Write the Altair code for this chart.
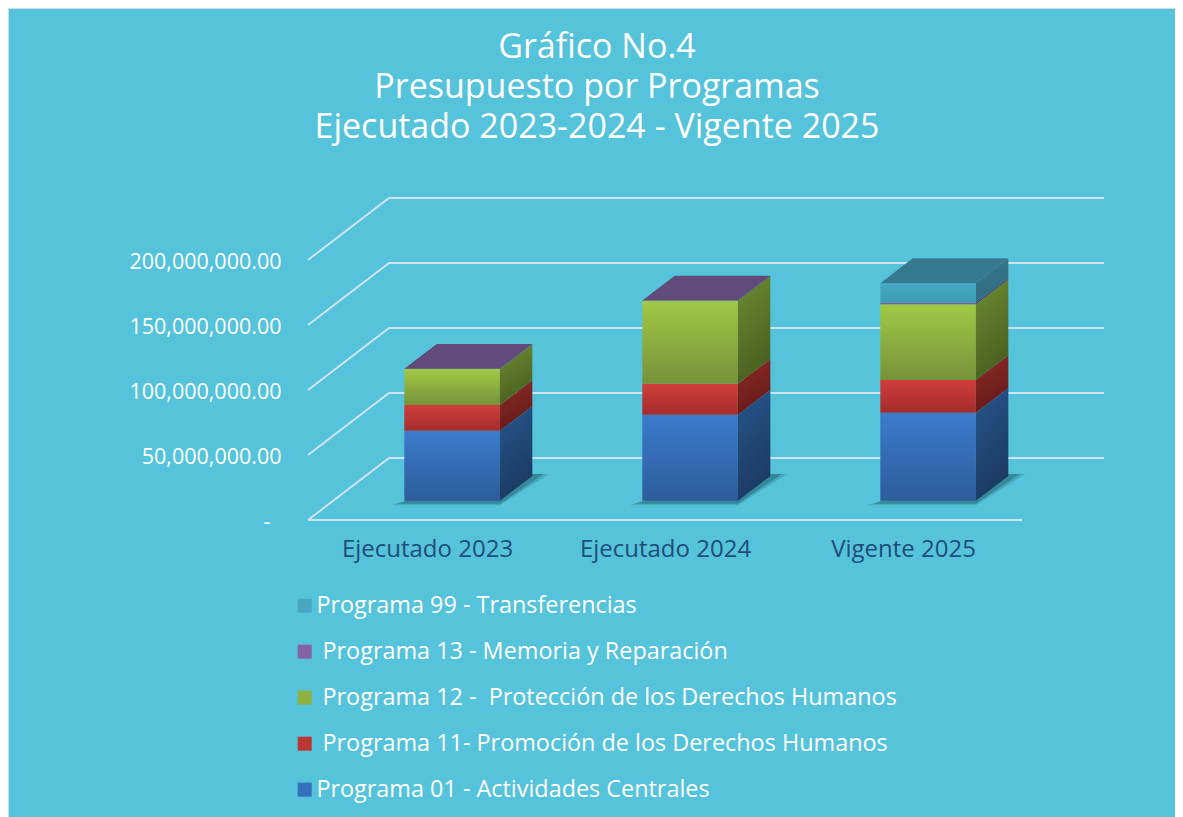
import altair as alt
import pandas as pd

# ---- data ----
categories = ["Ejecutado 2023", "Ejecutado 2024", "Vigente 2025"]
series_names = [
    "Programa 01 - Actividades Centrales",
    "\u200c\u00a0Programa 11- Promoción de los Derechos Humanos",
    "\u200c\u00a0Programa 12 - \u00a0Protección de los Derechos Humanos",
    "\u200c\u00a0Programa 13 - Memoria y Reparación",
    "Programa 99 - Transferencias",
]
prog01 = [53.8e6, 66.2e6, 67.7e6]
prog11 = [19.8e6, 23.8e6, 25.2e6]
prog12 = [27.7e6, 63.8e6, 58.2e6]
prog13 = [0.2e6, 0.2e6, 1.2e6]
prog99 = [0.0, 0.0, 15.1e6]
series_values = [prog01, prog11, prog12, prog13, prog99]
y_ticks = [0, 50e6, 100e6, 150e6, 200e6]
title_lines = ["Gráfico No.4", "Presupuesto por Programas", "Ejecutado 2023-2024 - Vigente 2025"]

# ---- colours ----
legend_colors = ["#3570BC", "#BC3633", "#8FB23F", "#8562A6", "#48A6C2"]
front_colors = [("#3C7BCC", "#2C5C9B"), ("#D03D3A", "#A22C2B"), ("#A0CA46", "#76923A"),
                ("#8562A6", "#6D4F8C"), ("#46AAC6", "#3E9AB4")]
side_colors = [("#26568B", "#1B3A62"), ("#8E2B27", "#651A19"), ("#6C8C33", "#4A6020"),
               ("#5A4070", "#503863"), ("#38788D", "#2F6C80")]
top_colors = {3: "#614B7A", 4: "#377A90"}
BG = "#55C3D9"
GRID = "#CFE4F0"
FONT = "Open Sans"

# ---- 3D projection settings (plot area 796 x 322 px) ----
PW, PH = 796, 322
CAT_PX = 238.0
VAL_PER_PX = 50e6 / 65.0
X_DOM = [-0.5, -0.5 + PW / CAT_PX]
Y_DOM = [0, PH * VAL_PER_PX]
DX = 81 / CAT_PX          # full floor depth in category units
DY = 62 * VAL_PER_PX      # full floor depth in value units
D0, D1 = 0.31, 0.71       # bar depth inside the floor
HW = 47.8 / CAT_PX

X_AXIS = alt.Axis(values=[0, 1, 2], grid=False, domain=False, ticks=False, labelPadding=17,
                  labelExpr="['Ejecutado 2023','Ejecutado 2024','Vigente 2025'][datum.value]",
                  labelColor="#1F4E79", labelFont=FONT, labelFontSize=24, labelOverlap=False,
                  labelFlush=False)
Y_AXIS = alt.Axis(values=y_ticks, grid=False, domain=False, ticks=False, labelPadding=27,
                  labelExpr="datum.value === 0 ? '-\u00a0\u00a0\u200c' : format(datum.value, ',.2f')",
                  labelColor="white", labelFont=FONT, labelFontSize=21.5, labelOverlap=False,
                  labelFlush=False, labelOffset=2.5)


def sx():
    return alt.X("x:Q", scale=alt.Scale(domain=X_DOM, nice=False, zero=False), axis=X_AXIS, title=None)


def sy():
    return alt.Y("y:Q", scale=alt.Scale(domain=Y_DOM, nice=False, zero=False), axis=Y_AXIS, title=None)


x2 = alt.X2("x2:Q")
y2 = alt.Y2("y2:Q")


def grad(a, b, x2_=0, y2_=1):
    return alt.LinearGradient(gradient="linear", x1=0, y1=0, x2=x2_, y2=y2_,
                              stops=[alt.GradientStop(offset=0, color=a), alt.GradientStop(offset=1, color=b)])


layers = []

# back gridlines with their depth lines, plus the front floor line
grid_rows = []
for t in y_ticks:
    grid_rows += [
        {"x": X_DOM[0], "y": t, "k": t, "o": 0},
        {"x": X_DOM[0] + DX, "y": t + DY, "k": t, "o": 1},
        {"x": X_DOM[1], "y": t + DY, "k": t, "o": 2},
    ]
grid_rows += [{"x": -0.5, "y": 0, "k": -1, "o": 0}, {"x": 2.5 + DX * 0, "y": 0, "k": -1, "o": 1}]
layers.append(
    alt.Chart(pd.DataFrame(grid_rows)).mark_line(color=GRID, strokeWidth=2, clip=False).encode(
        x=sx(), y=sy(), detail="k:N", order="o:Q",
    )
)

# thin frame at the top and left edges of the panel
layers.append(
    alt.Chart(pd.DataFrame({"k": [0]})).mark_rule(color="#C8DFEF", strokeWidth=1).encode(
        x=alt.value(-300), x2=alt.value(867), y=alt.value(-189.5)
    )
)
layers.append(
    alt.Chart(pd.DataFrame({"k": [0]})).mark_rule(color="#C8DFEF", strokeWidth=1).encode(
        y=alt.value(-190), y2=alt.value(619), x=alt.value(-299.5)
    )
)

# floor shadows
for i in range(len(categories)):
    cx = i + D0 * DX
    base = D0 * DY
    back = D1 * DY
    px = 1 / CAT_PX
    for grow, op in [(5, 0.35), (0, 0.65)]:
        rows = [
            {"y": base - (3 + grow * 0.3) * VAL_PER_PX, "x": cx - HW - (8 + grow) * px, "x2": cx + HW, "k": "a"},
            {"y": back + 2 * VAL_PER_PX, "x": cx + HW, "x2": cx + HW + (44 + grow) * px, "k": "a"},
        ]
        layers.append(
            alt.Chart(pd.DataFrame(rows)).mark_area(orient="horizontal", color="#2C7787", opacity=op).encode(
                y=sy(), x=sx(), x2=x2, detail="k:N"
            )
        )

# bars: a front rectangle and a side face per segment, a top face on the top segment
for s, vals in enumerate(series_values):
    front_rows, side_rows = [], []
    for i in range(len(categories)):
        if vals[i] <= 0:
            continue
        below = sum(series_values[k][i] for k in range(s))
        lo = below + D0 * DY
        hi = lo + vals[i]
        cx = i + D0 * DX
        x_l, x_r = cx - HW, cx + HW
        back_x = x_r + (D1 - D0) * DX
        lift = (D1 - D0) * DY
        front_rows.append({"x": x_l, "x2": x_r, "y": lo, "y2": hi})
        side_rows += [
            {"x": x_r, "y": lo, "y2": hi, "k": i},
            {"x": back_x, "y": lo + lift, "y2": hi + lift, "k": i},
        ]
    layers.append(
        alt.Chart(pd.DataFrame(front_rows)).mark_rect(color=grad(*front_colors[s])).encode(
            x=sx(), x2=x2, y=sy(), y2=y2
        )
    )
    layers.append(
        alt.Chart(pd.DataFrame(side_rows)).mark_area(color=grad(*side_colors[s], x2_=0.3, y2_=1)).encode(
            x=sx(), y=sy(), y2=y2, detail="k:N"
        )
    )

for i in range(len(categories)):
    top_s = max(s for s in range(len(series_values)) if series_values[s][i] > 0)
    total = sum(series_values[k][i] for k in range(len(series_values)))
    cx = i + D0 * DX
    v = total + D0 * DY
    lift = (D1 - D0) * DY
    shift = (D1 - D0) * DX
    rows = [
        {"y": v, "x": cx - HW, "x2": cx + HW, "k": i},
        {"y": v + lift, "x": cx - HW + shift, "x2": cx + HW + shift, "k": i},
    ]
    layers.append(
        alt.Chart(pd.DataFrame(rows)).mark_area(orient="horizontal", color=top_colors[top_s]).encode(
            y=sy(), x=sx(), x2=x2, detail="k:N"
        )
    )

# legend
legend_df = pd.DataFrame({"programa": series_names, "x": [0.0] * 5, "y": [0.0] * 5})
legend_order = list(reversed(series_names))
layers.append(
    alt.Chart(legend_df).mark_square(opacity=0).encode(
        x=sx(),
        y=sy(),
        color=alt.Color(
            "programa:N",
            scale=alt.Scale(domain=series_names, range=legend_colors),
            sort=legend_order,
            legend=alt.Legend(
                orient="none", legendX=-15, legendY=396, title=None, symbolType="square", symbolSize=196,
                symbolOpacity=1, symbolStrokeWidth=0, labelFont=FONT, labelFontSize=23.4, labelColor="white",
                labelOffset=0, rowPadding=21, padding=0, labelLimit=800, values=legend_order,
            ),
        ),
    )
)

chart = (
    alt.layer(*layers)
    .properties(
        width=PW,
        height=PH,
        background=BG,
        padding={"left": 300, "top": 190, "right": 71, "bottom": 297},
        autosize=alt.AutoSizeParams(type="none"),
        title=alt.TitleParams(
            text=title_lines, anchor="middle", dx=-109, dy=190, offset=53, lineHeight=40, fontSize=34,
            font=FONT, fontWeight="normal", color="white",
        ),
    )
    .configure_view(stroke=None)
)

chart.save("out.html", embed_options={"renderer": "svg", "actions": False})
